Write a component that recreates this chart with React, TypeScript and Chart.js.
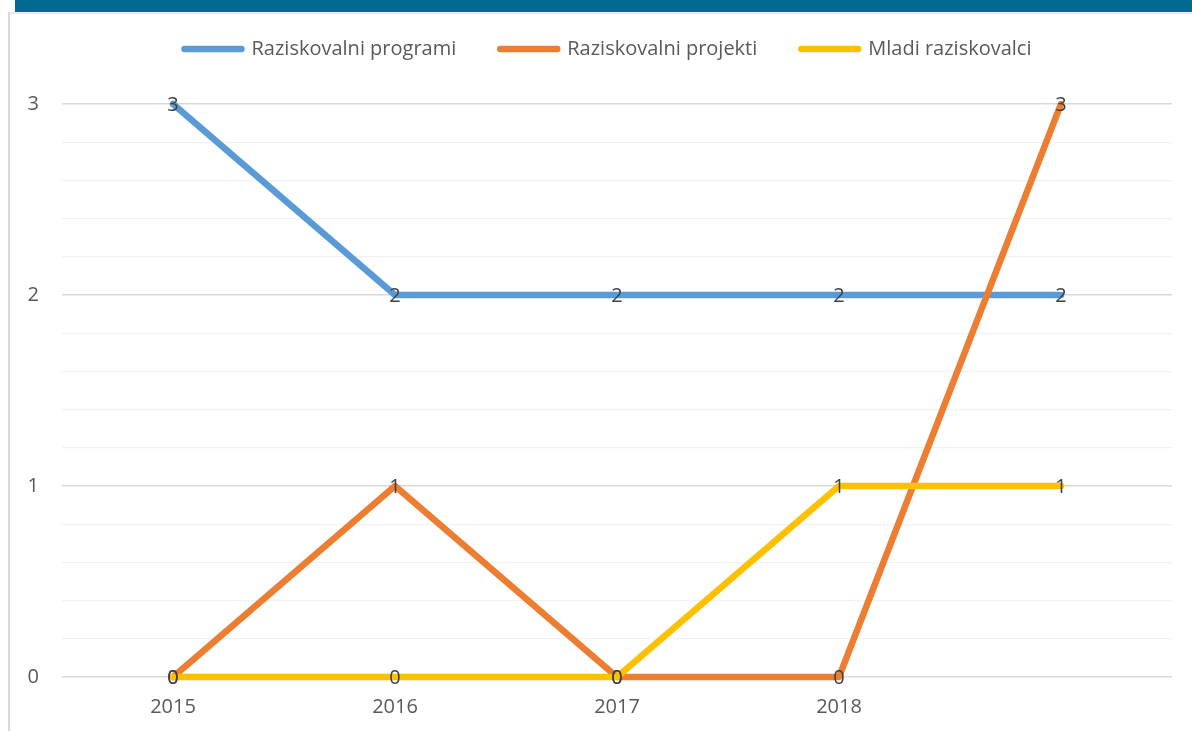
import React, { useEffect, useRef } from "react";
import { Chart, registerables } from "chart.js";

Chart.register(...registerables);

const categories = ["2015", "2016", "2017", "2018", ""];
const seriesNames = ["Raziskovalni programi", "Raziskovalni projekti", "Mladi raziskovalci"];
const programi = [3, 2, 2, 2, 2];
const projekti = [0, 1, 0, 0, 3];
const mladi = [0, 0, 0, 1, 1];
const seriesColors = ["#5B9BD5", "#ED7D31", "#FFC000"];
const yMin = 0;
const yMax = 3;
const yStep = 0.2;

const FONT = "'Open Sans', 'Noto Sans', sans-serif";

const dataLabelsPlugin = {
  id: "dataLabels",
  afterDatasetsDraw(chart: any) {
    const ctx = chart.ctx;
    ctx.save();
    ctx.font = `20px ${FONT}`;
    ctx.fillStyle = "#404040";
    ctx.textAlign = "center";
    ctx.textBaseline = "middle";
    chart.data.datasets.forEach((ds: any, i: number) => {
      const meta = chart.getDatasetMeta(i);
      meta.data.forEach((pt: any, j: number) => {
        ctx.fillText(String(ds.data[j]), pt.x, pt.y + 1);
      });
    });
    ctx.restore();
  },
};

// Adds space below the legend and shifts it to centre over the plot like the original.
const legendLayoutPlugin = {
  id: "legendLayout",
  afterInit(chart: any) {
    const lg = chart.legend;
    if (lg && !lg.__patched) {
      const orig = lg.fit.bind(lg);
      lg.fit = () => {
        orig();
        lg.height += 35;
      };
      lg.__patched = true;
    }
  },
  afterLayout(chart: any) {
    const lg = chart.legend;
    if (lg) {
      lg.left += 44;
    }
  },
};

export default function App() {
  const ref = useRef<HTMLCanvasElement | null>(null);

  useEffect(() => {
    if (!ref.current) return;
    const allSeries = [programi, projekti, mladi];
    const chart = new Chart(ref.current, {
      type: "line",
      data: {
        labels: categories,
        datasets: allSeries.map((d, i) => ({
          label: seriesNames[i],
          data: d,
          borderColor: seriesColors[i],
          backgroundColor: seriesColors[i],
          borderWidth: 6.5,
          pointRadius: 0,
          pointHoverRadius: 0,
          tension: 0,
          borderJoinStyle: "round" as const,
          borderCapStyle: "round" as const,
          fill: false,
          clip: false as any,
          order: 2 - i,
        })),
      },
      options: {
        responsive: false,
        animation: false,
        events: [],
        layout: { padding: { left: 0, right: 20, top: -5, bottom: 0 } },
        plugins: {
          tooltip: { enabled: false },
          legend: {
            position: "top",
            labels: {
              usePointStyle: true,
              pointStyle: "line",
              pointStyleWidth: 57,
              boxHeight: 6,
              padding: 44,
              color: "#595959",
              font: { family: FONT, size: 20 },
              sort: (a: any, b: any) => a.datasetIndex - b.datasetIndex,
              generateLabels: (chart: any) =>
                chart.data.datasets.map((ds: any, i: number) => ({
                  text: ds.label,
                  datasetIndex: i,
                  fillStyle: ds.borderColor,
                  strokeStyle: ds.borderColor,
                  lineWidth: 6.5,
                  lineCap: "round",
                  pointStyle: "line",
                  hidden: false,
                  fontColor: "#595959",
                })),
            },
          },
        },
        scales: {
          x: {
            type: "category",
            offset: true,
            grid: { display: false, drawTicks: false },
            border: { display: false },
            ticks: {
              color: "#595959",
              font: { family: FONT, size: 20 },
              padding: 18,
              maxRotation: 0,
              autoSkip: false,
            },
            afterFit: (scale: any) => {
              scale.height = 54;
            },
          },
          y: {
            min: yMin,
            max: yMax,
            border: { display: false },
            grid: {
              drawTicks: false,
              lineWidth: (c: any) => {
                const v = c.tick ? c.tick.value : 0;
                return Math.abs(v - Math.round(v)) < 1e-6 ? 1.5 : 1.2;
              },
              color: (c: any) => {
                const v = c.tick ? c.tick.value : 0;
                return Math.abs(v - Math.round(v)) < 1e-6 ? "#D9D9D9" : "#F2F2F2";
              },
            },
            ticks: {
              stepSize: yStep,
              autoSkip: false,
              color: "#595959",
              font: { family: FONT, size: 20 },
              padding: 23,
              callback: (v: any) => {
                const n = Number(v);
                return Math.abs(n - Math.round(n)) < 1e-6 ? String(Math.round(n)) : "";
              },
            },
            afterFit: (scale: any) => {
              scale.width = 62;
            },
          },
        },
      },
      plugins: [dataLabelsPlugin, legendLayoutPlugin],
    });
    return () => chart.destroy();
  }, []);

  return (
    <div style={{ position: "absolute", left: 0, top: 0, width: 1192, height: 731, overflow: "hidden", background: "#fff" }}>
      <div style={{ position: "absolute", left: 15, top: 0, width: 1177, height: 12, background: "#00698F" }} />
      <div style={{ position: "absolute", left: 8, top: 12, width: 1184, height: 2, background: "#EAEAEA" }} />
      <div style={{ position: "absolute", left: 8, top: 12, width: 2, height: 719, background: "#D9D9D9" }} />
      <canvas
        ref={ref}
        width={1192}
        height={731}
        style={{ position: "absolute", left: 0, top: 0, width: 1192, height: 731 }}
      />
    </div>
  );
}
